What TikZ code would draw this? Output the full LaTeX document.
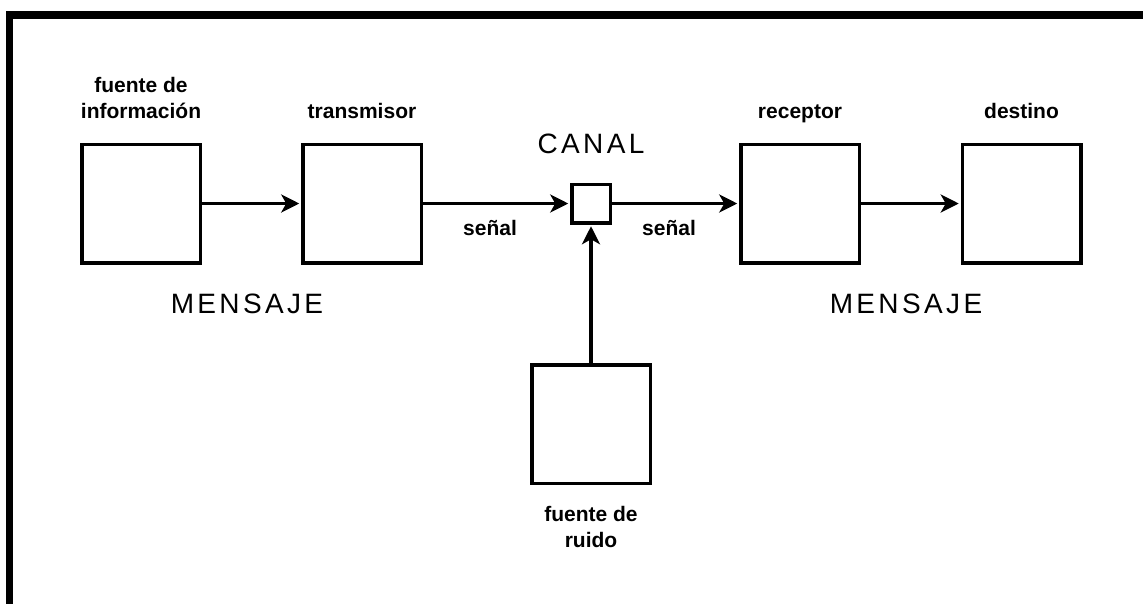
\documentclass[tikz,border=0pt]{standalone}
\usepackage{fontspec}
\setmainfont{Liberation Sans}
\newfontfamily\spacedfont[LetterSpace=12]{Liberation Sans}
\usetikzlibrary{arrows.meta}
\begin{document}
\begin{tikzpicture}[x=1pt,y=-1pt,
  blk/.style={draw, line width=3.5pt, minimum width=118.5pt, minimum height=118.5pt, inner sep=0pt},
  smallbox/.style={draw, line width=3.5pt, minimum width=38.5pt, minimum height=38.5pt, inner sep=0pt},
  lbl/.style={font=\fontsize{21}{26}\selectfont\bfseries, align=center, inner sep=0pt, anchor=base},
  big/.style={font=\fontsize{28}{32}\spacedfont, inner sep=0pt, anchor=base},
  conn/.style={line width=3.5pt, shorten >=1.75pt, -{Stealth[length=18pt,width=18pt,inset=5pt]}},
]
\useasboundingbox (0,0) rectangle (1143,603);
\draw[line width=7.5pt] (9.5,620) -- (9.5,15) -- (1160,15);
\node[blk] (src) at (141,203.5) {};
\node[blk] (tx) at (362,203.5) {};
\node[smallbox] (ch) at (591,203.5) {};
\node[blk] (rx) at (800,203.5) {};
\node[blk] (dst) at (1021.5,203.5) {};
\node[blk] (noise) at (591,424) {};
\node[lbl] (srcl) at (141,118) {fuente de\\información};
\node[lbl] (txl) at (362,118) {transmisor};
\node[big] (chl) at (591,153) {CANAL};
\node[lbl] (s1) at (490,235) {señal};
\node[lbl] (s2) at (669,235) {señal};
\node[lbl] (rxl) at (800,118) {receptor};
\node[lbl] (dstl) at (1021.5,118) {destino};
\node[big] (m1) at (247,313) {MENSAJE};
\node[big] (m2) at (906,313) {MENSAJE};
\node[lbl] (nl) at (591,547) {fuente de\\ruido};
\draw[conn] (src) -- (tx);
\draw[conn] (tx) -- (ch);
\draw[conn] (ch) -- (rx);
\draw[conn] (rx) -- (dst);
\draw[conn] (noise) -- (ch);
\end{tikzpicture}
\end{document}
